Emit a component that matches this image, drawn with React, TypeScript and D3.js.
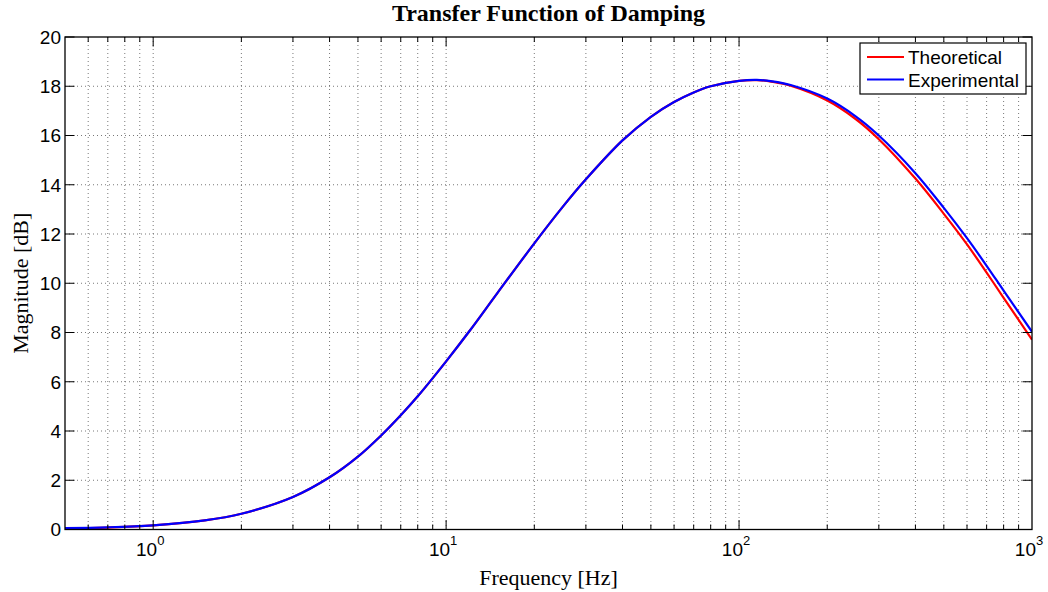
import React from "react";
import * as d3 from "d3";

const frequency = [0.5, 0.7, 1, 1.5, 2, 3, 4, 5, 6, 7, 8, 10, 12, 15, 20, 25, 30, 40, 50, 60, 70, 80, 100, 115, 130, 150, 200, 250, 300, 400, 500, 600, 700, 800, 1000];
const theoretical = [0.03, 0.08, 0.17, 0.37, 0.64, 1.32, 2.12, 2.96, 3.82, 4.64, 5.41, 6.83, 8.05, 9.62, 11.62, 13.1, 14.22, 15.8, 16.76, 17.36, 17.75, 18.0, 18.22, 18.25, 18.18, 18.02, 17.42, 16.67, 15.85, 14.25, 12.82, 11.58, 10.43, 9.41, 7.71];
const experimental = [0.06, 0.09, 0.17, 0.37, 0.64, 1.32, 2.12, 2.96, 3.82, 4.64, 5.41, 6.83, 8.05, 9.62, 11.62, 13.1, 14.22, 15.8, 16.76, 17.36, 17.75, 18.0, 18.22, 18.26, 18.2, 18.05, 17.5, 16.78, 16.0, 14.47, 13.06, 11.83, 10.71, 9.7, 8.03];
const yTicks = [0, 2, 4, 6, 8, 10, 12, 14, 16, 18, 20];
const xMajor = [1, 10, 100, 1000];
const xMajorExp = ["0", "1", "2", "3"];
const seriesNames = ["Theoretical", "Experimental"];
const seriesColors = ["#ff0000", "#0000ff"];

const W = 1048, H = 592;
const L = 65, R = 1032, T = 37, B = 529.5;

export default function App() {
  const x = d3.scaleLog().domain([0.5, 1000]).range([L, R]);
  const y = d3.scaleLinear().domain([0, 20]).range([B, T]);
  const minor: number[] = [];
  for (let d = -1; d < 3; d++) {
    for (let k = 1; k <= 9; k++) {
      const v = k * Math.pow(10, d);
      if (v > 0.5 && v < 1000) minor.push(v);
    }
  }
  const makePath = (vals: number[]) =>
    d3.line<number>()
      .x((_, i) => x(frequency[i]))
      .y((d) => y(d))
      .curve(d3.curveCatmullRom.alpha(0.5))(vals) || "";
  const pathT = makePath(theoretical);
  const pathE = makePath(experimental);
  const sans = "'Liberation Sans', Arial, Helvetica, sans-serif";
  const serif = "'Liberation Serif', 'Times New Roman', Times, serif";
  const grid = { stroke: "#555", strokeWidth: 0.8, strokeDasharray: "1,3" };
  const lx = 860, ly = 43, lw = 166, lh = 51;
  return (
    <svg width={W} height={H} style={{ position: "fixed", left: 0, top: 0, background: "#fff" }}>
      <defs>
        <clipPath id="clip"><rect x={L} y={T} width={R - L} height={B - T} /></clipPath>
      </defs>
      <rect x={0} y={0} width={W} height={H} fill="#fff" />
      {minor.map((v) => (
        <line key={"gx" + v} x1={x(v)} x2={x(v)} y1={T} y2={B} {...grid} />
      ))}
      {yTicks.filter((v) => v > 0 && v < 20).map((v) => (
        <line key={"gy" + v} x1={L} x2={R} y1={y(v)} y2={y(v)} {...grid} />
      ))}
      <g clipPath="url(#clip)">
        <path d={pathT} fill="none" stroke={seriesColors[0]} strokeWidth={2.2} />
        <path d={pathE} fill="none" stroke={seriesColors[1]} strokeWidth={2.2} />
      </g>
      {minor.map((v) => {
        const major = xMajor.includes(v);
        const len = major ? 9.5 : 5;
        return (
          <g key={"tx" + v}>
            <line x1={x(v)} x2={x(v)} y1={B} y2={B - len} stroke="#000" strokeWidth={1} />
            <line x1={x(v)} x2={x(v)} y1={T} y2={T + len} stroke="#000" strokeWidth={1} />
          </g>
        );
      })}
      {yTicks.map((v) => (
        <g key={"ty" + v}>
          <line x1={L} x2={L + 9.5} y1={y(v)} y2={y(v)} stroke="#000" strokeWidth={1} />
          <line x1={R} x2={R - 9.5} y1={y(v)} y2={y(v)} stroke="#000" strokeWidth={1} />
          <text x={L - 4} y={y(v) + 6.8} textAnchor="end" fontFamily={sans} fontSize={19} fill="#000">{v}</text>
        </g>
      ))}
      {xMajor.map((v, i) => (
        <text key={"lx" + v} x={x(v) - 3} y={556} textAnchor="middle" fontFamily={sans} fontSize={19} fill="#000">
          10<tspan fontSize={13} dy={-11}>{xMajorExp[i]}</tspan>
        </text>
      ))}
      <rect x={L} y={T} width={R - L} height={B - T} fill="none" stroke="#000" strokeWidth={1.3} />
      <rect x={lx} y={ly} width={lw} height={lh} fill="#fff" stroke="#000" strokeWidth={1.2} />
      {seriesNames.map((n, i) => (
        <g key={n}>
          <line x1={lx + 7} x2={lx + 44} y1={ly + 14 + i * 22.5} y2={ly + 14 + i * 22.5} stroke={seriesColors[i]} strokeWidth={2.2} />
          <text x={lx + 48} y={ly + 21 + i * 22.5} fontFamily={sans} fontSize={19} fill="#000">{n}</text>
        </g>
      ))}
      <text x={(L + R) / 2} y={21} textAnchor="middle" fontFamily={serif} fontWeight="bold" fontSize={24} fill="#000">Transfer Function of Damping</text>
      <text x={(L + R) / 2} y={585} textAnchor="middle" fontFamily={serif} fontSize={22} fill="#000">Frequency [Hz]</text>
      <text transform={`translate(28,${(T + B) / 2}) rotate(-90)`} textAnchor="middle" fontFamily={serif} fontSize={22} fill="#000">Magnitude [dB]</text>
    </svg>
  );
}
